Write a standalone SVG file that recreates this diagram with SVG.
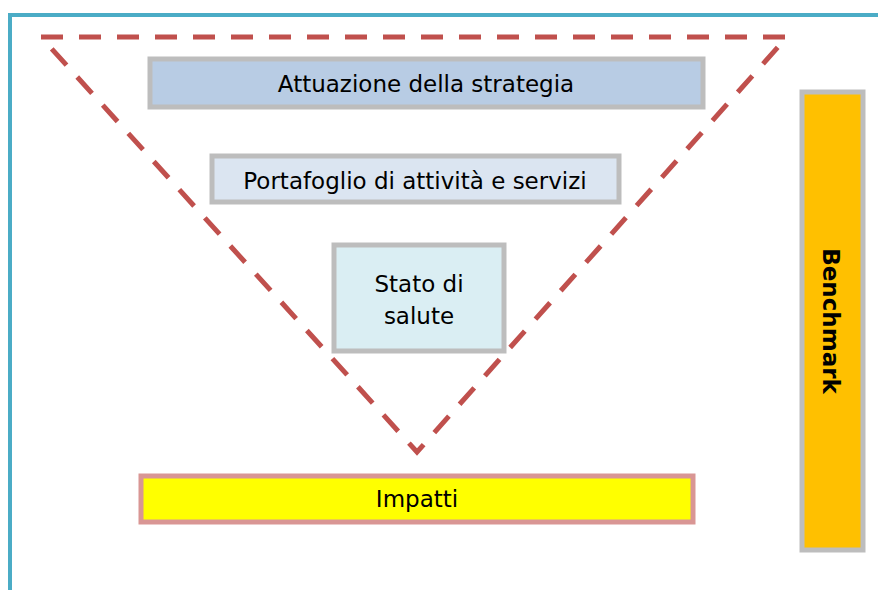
<svg xmlns="http://www.w3.org/2000/svg" width="878" height="590" viewBox="0 0 878 590">
<style>
.box{stroke:#BDBDBD;stroke-width:5;}
.t{font-family:"DejaVu Sans","Liberation Sans",sans-serif;font-size:23px;fill:#000;text-anchor:middle;dominant-baseline:central;}
.frame{stroke:#4BACC6;stroke-width:4;fill:none;}
.tri{stroke:#C0504D;stroke-width:5;fill:none;stroke-dasharray:22 16;}
</style>
<rect width="878" height="590" fill="#fff"/>
<path class="frame" d="M10,590 V15 H878"/>
<g id="connectors">
<path class="tri" d="M41,37 H787 L417,452 Z"/>
</g>
<g id="attuazione">
<rect class="box" x="150" y="59" width="553" height="48" fill="#B8CCE4"/>
<text class="t" x="426" y="84">Attuazione della strategia</text>
</g>
<g id="portafoglio">
<rect class="box" x="212" y="156" width="407" height="46" fill="#DBE5F1"/>
<text class="t" x="415" y="181">Portafoglio di attività e servizi</text>
</g>
<g id="stato">
<rect class="box" x="334" y="245" width="170" height="106" fill="#DAEEF3"/>
<text class="t" x="419" y="284">Stato di</text>
<text class="t" x="419" y="316">salute</text>
</g>
<g id="impatti">
<rect class="box" x="141" y="476" width="552" height="46" fill="#FFFF00" style="stroke:#D99694"/>
<text class="t" x="417" y="499">Impatti</text>
</g>
<g id="benchmark">
<rect class="box" x="802" y="92" width="61" height="458" fill="#FFC000"/>
<text class="t" x="0" y="0" font-weight="bold" transform="translate(831,321) rotate(90)">Benchmark</text>
</g>
</svg>
